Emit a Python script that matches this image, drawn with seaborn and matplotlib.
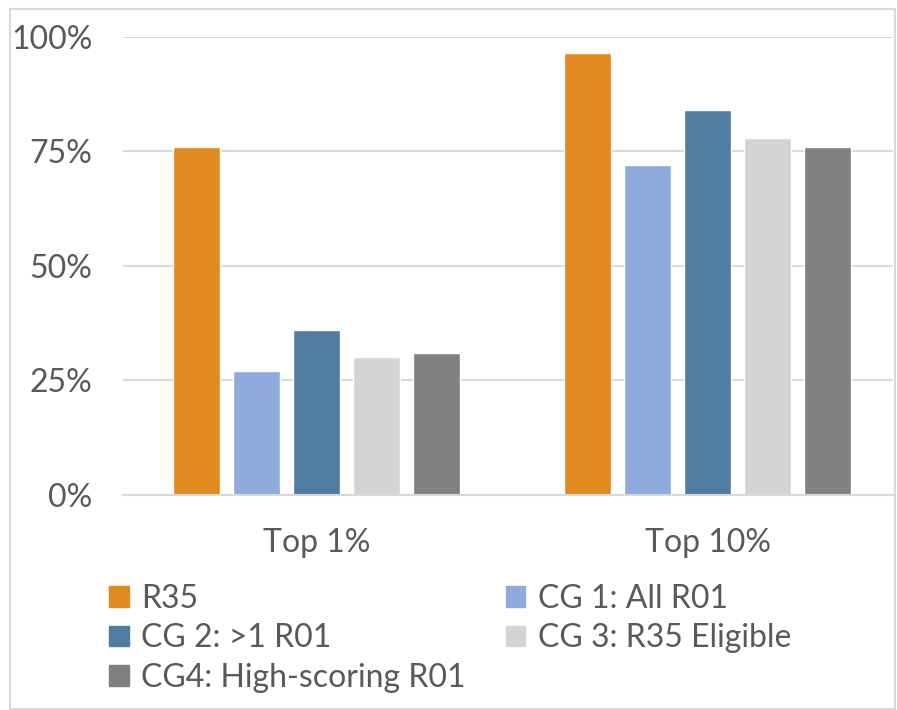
import pandas as pd
import matplotlib.pyplot as plt
import seaborn as sns
from matplotlib.patches import Rectangle, Patch
from matplotlib.ticker import FuncFormatter

categories = ['Top 1%', 'Top 10%']
groups = ['R35', 'CG 1: All R01', 'CG 2: >1 R01', 'CG 3: R35 Eligible', 'CG4: High-scoring R01']
r35 = [76, 96.5]
cg1 = [27, 72]
cg2 = [36, 84]
cg3 = [30, 78]
cg4 = [31, 76]
colors = ['#E08A20', '#8FAADC', '#507CA1', '#D4D4D4', '#808080']

rows = []
for g, vals in zip(groups, [r35, cg1, cg2, cg3, cg4]):
    for c, v in zip(categories, vals):
        rows.append({'Category': c, 'Group': g, 'Value': v})
df = pd.DataFrame(rows)

sns.set_style('white')
plt.rcParams['font.family'] = ['Lato', 'DejaVu Sans']
text_color = '#595959'

fig = plt.figure(figsize=(8.97, 7.10), dpi=100)
ax = fig.add_axes([0.137, 0.303, 0.858, 0.645])

sns.barplot(data=df, x='Category', y='Value', hue='Group', hue_order=groups,
            palette=colors, width=0.767, gap=0.217, saturation=1, ax=ax, legend=False)

ax.set_xlim(-0.496, 1.473)
ax.set_ylim(0, 100)
ax.set_yticks([0, 25, 50, 75, 100])
ax.yaxis.set_major_formatter(FuncFormatter(lambda v, p: f'{int(v)}%'))
ax.yaxis.grid(True, color='#D9D9D9', linewidth=1.5)
ax.set_axisbelow(True)
ax.set_xlabel('')
ax.set_ylabel('')
for s in ['top', 'right', 'left']:
    ax.spines[s].set_visible(False)
ax.spines['bottom'].set_color('#D9D9D9')
ax.spines['bottom'].set_linewidth(1.5)
ax.tick_params(axis='both', length=0, labelsize=23, colors=text_color)
ax.tick_params(axis='y', pad=22)
ax.tick_params(axis='x', pad=24)

handles = [Patch(color=c) for c in colors]
order = [0, 2, 4, 1, 3]
leg = fig.legend([handles[i] for i in order], [groups[i] for i in order],
                 ncol=2, loc='upper left', bbox_to_anchor=(0.122, 0.178),
                 frameon=False, fontsize=23, handlelength=0.6, handleheight=0.6,
                 handletextpad=0.4, columnspacing=1.25, labelspacing=0.3,
                 borderpad=0, borderaxespad=0)
for t in leg.get_texts():
    t.set_color(text_color)

fig.patches.append(Rectangle((0.011, 0.002), 0.987, 0.985, transform=fig.transFigure,
                             fill=False, edgecolor='#D9D9D9', linewidth=1.5))

fig.savefig('out.png', dpi=100)
